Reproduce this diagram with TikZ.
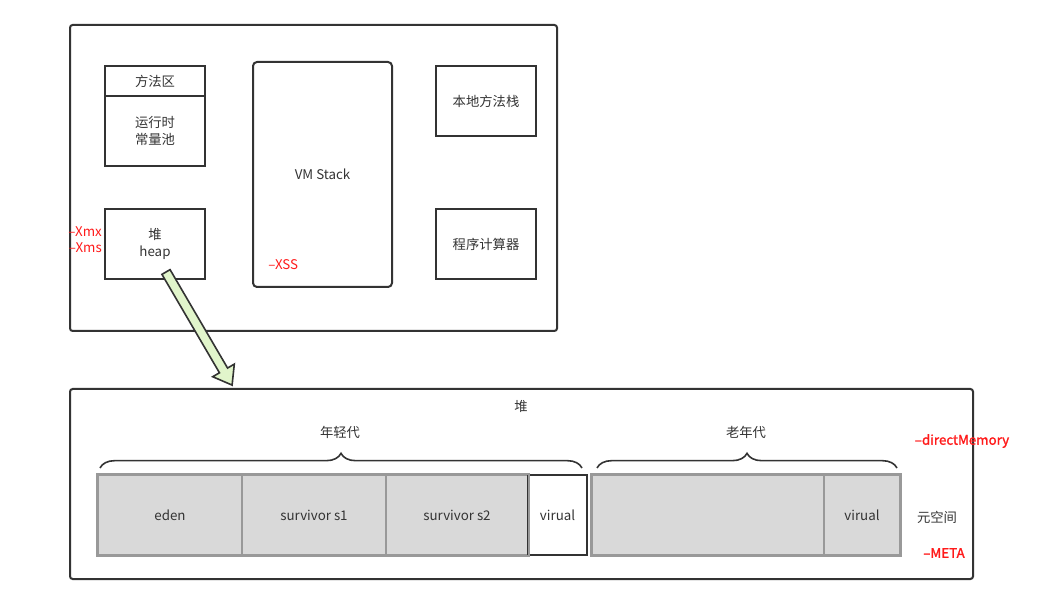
\documentclass[tikz,border=0pt]{standalone}
\usepackage{fontspec}
\setmainfont{Noto Sans CJK SC}
\usetikzlibrary{positioning,decorations.pathreplacing,calc}

\definecolor{linegray}{HTML}{333333}
\definecolor{cellgray}{HTML}{D9D9D9}
\definecolor{celledge}{HTML}{999999}
\definecolor{arrowgreen}{HTML}{E1F5CB}
\definecolor{optred}{HTML}{FF1A1A}

\newcommand{\pxu}{0.75pt}

\tikzset{
    area/.style={draw=linegray, line width=1.5pt, rounded corners=2pt},
    part/.style={draw=linegray, line width=1.5pt, align=center, text=linegray,
        inner sep=0pt},
    cell/.style={draw=celledge, fill=cellgray, line width=0.8pt, text=linegray,
        inner sep=0pt},
    opt/.style={text=optred, inner sep=0pt},
    span/.style={decorate, decoration={brace, amplitude=11pt}, draw=linegray,
        line width=1.2pt},
    fatarrow/.style={draw=linegray, fill=arrowgreen, line width=1.2pt,
        line join=miter},
}

\begin{document}
\begin{tikzpicture}[x=\pxu, y=-\pxu, font=\fontsize{10}{12.5}\selectfont]

\useasboundingbox (0,0) rectangle (1046,605);

% runtime areas
\draw [area] (70,25) rectangle (557,331);

\node [part, minimum width={100*\pxu}, minimum height={30*\pxu}] (method) at (155,81) {方法区};
\node [part, minimum width={100*\pxu}, minimum height={70*\pxu}, below=-1.5pt of method] (pool) {运行时\\常量池};
\node [part, minimum width={100*\pxu}, minimum height={70*\pxu}] (heap) at (155,244) {堆\\heap};

\node [part, rounded corners=3pt, minimum width={139*\pxu}, minimum height={225*\pxu}] (vmstack) at (322.5,174.5) {VM Stack};

\node [part, minimum width={100*\pxu}, minimum height={70*\pxu}] (native) at (486,101) {本地方法栈};
\node [part, minimum width={100*\pxu}, minimum height={70*\pxu}] (counter) at (486,244) {程序计算器};

% options
\node [opt, anchor=east] (xmx) at (102,232) {–Xmx};
\node [opt, anchor=east] (xms) at (102,248) {–Xms};
\node [opt, anchor=west] (xss) at (268,265) {–XSS};


% heap detail
\draw [area] (70,389) rectangle (973,579);
\node [text=linegray] (heaptitle) at (521,406) {堆};

\begin{scope}
    \node [cell, minimum width={144*\pxu}, minimum height={80*\pxu}] (eden) at (170,515) {eden};
    \node [cell, minimum width={144*\pxu}, minimum height={80*\pxu}, right=-0.8pt of eden] (s1) {survivor s1};
    \node [cell, minimum width={142*\pxu}, minimum height={80*\pxu}, right=-0.8pt of s1] (s2) {survivor s2};
    \node [part, minimum width={59*\pxu}, minimum height={80*\pxu}, right=-1.1pt of s2] (young) {virual};
    \draw [draw=celledge, line width=1.5pt] (eden.north west) rectangle (s2.south east);

    \node [cell, minimum width={232*\pxu}, minimum height={80*\pxu}] (old) at (708,515) {};
    \node [cell, minimum width={76*\pxu}, minimum height={80*\pxu}, right=-0.8pt of old] (oldvir) {virual};
    \draw [draw=celledge, line width=1.5pt] (old.north west) rectangle (oldvir.south east);
\end{scope}

% braces
\coordinate (ya) at (100,468);
\coordinate (yb) at (582,468);
\coordinate (oa) at (597,468);
\coordinate (ob) at (897,468);
\draw [span] (ya) -- (yb);
\draw [span] (oa) -- (ob);
\node [text=linegray] (younglbl) at (340,432) {年轻代};
\node [text=linegray] (oldlbl) at (746,432) {老年代};

\node [text=linegray] (meta) at (937,517) {元空间};
\node [opt, font=\fontsize{10}{12.5}\selectfont\addfontfeature{FakeBold=1.5}] (direct) at (962,441) {–directMemory};
\node [opt, font=\fontsize{10}{12.5}\selectfont\addfontfeature{FakeBold=1.5}] (metaopt) at (944,553) {–META};


% move arrow
\coordinate (arrS) at (166,272);
\begin{scope}[shift={(arrS)}, rotate=-59.7]
    \draw [fatarrow] (0,-4.7) -- (114,-4.7) -- (114,-12.5) -- (131,0)
        -- (114,12.5) -- (114,4.7) -- (0,4.7) -- cycle;
\end{scope}

\end{tikzpicture}
\end{document}
